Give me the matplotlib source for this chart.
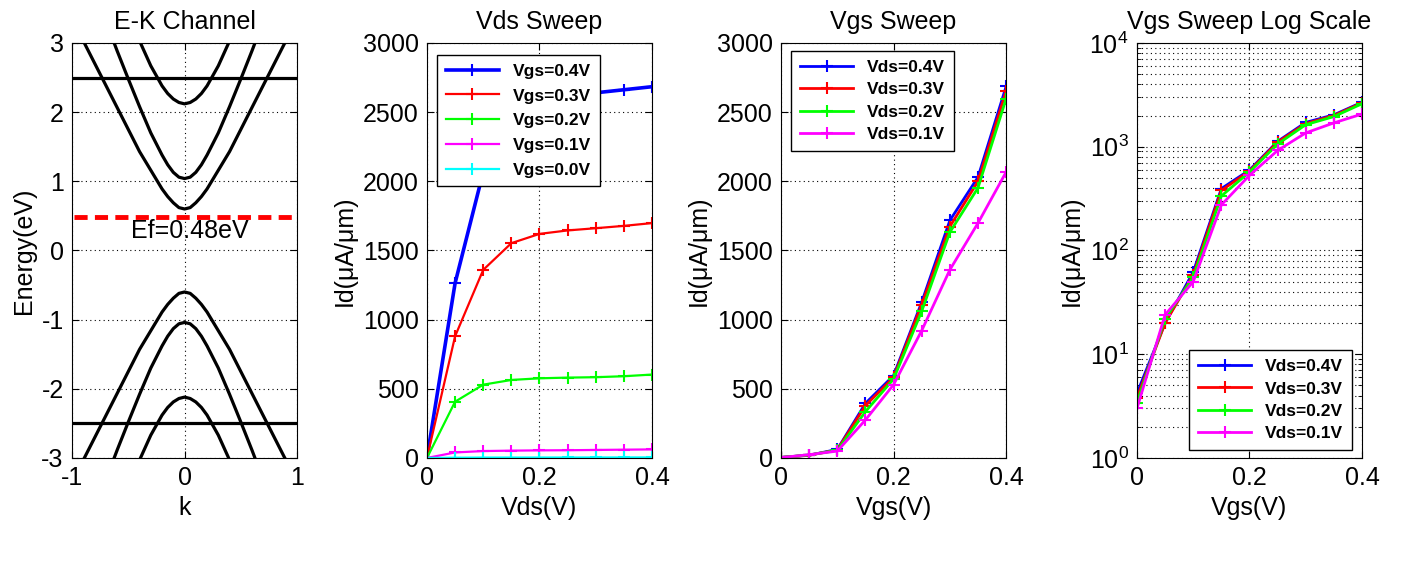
import numpy as np
import matplotlib
matplotlib.use("Agg")
import matplotlib.pyplot as plt
from matplotlib.ticker import LogLocator, NullFormatter

plt.rcParams['font.family'] = ['Liberation Sans', 'DejaVu Sans']
plt.rcParams['mathtext.fontset'] = 'custom'
plt.rcParams['mathtext.rm'] = 'Liberation Sans'
plt.rcParams['mathtext.default'] = 'regular'
plt.rcParams['axes.unicode_minus'] = False

# ---- band structure (k >= 0 half, mirrored) ----
k_b1 = [0, 0.05, 0.1, 0.15, 0.2, 0.3, 0.4, 0.5, 0.6, 0.7, 0.8, 0.9, 1.0]
E_b1 = [0.60, 0.62, 0.69, 0.78, 0.89, 1.16, 1.43, 1.75, 2.07, 2.39, 2.71, 3.03, 3.35]
k_b2 = [0, 0.05, 0.1, 0.15, 0.2, 0.3, 0.4, 0.5, 0.6, 0.7]
E_b2 = [1.04, 1.06, 1.13, 1.24, 1.38, 1.70, 2.08, 2.48, 2.89, 3.32]
k_b3 = [0, 0.05, 0.1, 0.15, 0.2, 0.3, 0.4, 0.5]
E_b3 = [2.12, 2.14, 2.19, 2.27, 2.38, 2.67, 3.03, 3.43]
k_flat = [-1, 1]
E_flat = 2.5
Ef = 0.48

# ---- Vds sweep ----
vds = [0, 0.05, 0.1, 0.15, 0.2, 0.25, 0.3, 0.35, 0.4]
id_vgs04 = [0, 1264, 2067, 2520, 2597, 2620, 2640, 2662, 2684]
id_vgs03 = [0, 880, 1360, 1553, 1620, 1645, 1661, 1678, 1698]
id_vgs02 = [0, 407, 530, 564, 576, 581, 584, 591, 603]
id_vgs01 = [0, 40, 50, 53, 55, 56, 58, 60, 62]
id_vgs00 = [0, 2.0, 3.0, 3.2, 3.4, 3.6, 3.8, 4.0, 4.2]

# ---- Vgs sweep ----
vgs = [0, 0.05, 0.1, 0.15, 0.2, 0.25, 0.3, 0.35, 0.4]
id_vds04 = [4.2, 20, 62, 395, 596, 1126, 1717, 2030, 2686]
id_vds03 = [3.8, 20, 58, 379, 583, 1109, 1673, 1999, 2652]
id_vds02 = [3.4, 22, 55, 335, 571, 1061, 1632, 1953, 2597]
id_vds01 = [3.0, 24, 50, 275, 530, 921, 1360, 1698, 2067]

FS = 18
LEG_FS = 12.5
grid_kw = dict(color='black', linestyle=(0, (1, 3)), linewidth=0.8)

fig = plt.figure(figsize=(14.04, 5.68), dpi=100)
bottom, height, width = 0.1937, 0.7306, 0.1603
lefts = [0.0513, 0.3041, 0.5563, 0.8098]
axes = [fig.add_axes([l, bottom, width, height]) for l in lefts]


def style(ax):
    ax.tick_params(direction='in', top=True, right=True, labelsize=FS,
                   length=5, pad=6)
    for s in ax.spines.values():
        s.set_linewidth(0.8)


def add_legend(ax, loc, anchor, spacing):
    leg = ax.legend(loc=loc, bbox_to_anchor=anchor, borderaxespad=0,
                    fancybox=False, framealpha=1, edgecolor='black',
                    prop={'size': LEG_FS, 'weight': 'bold'},
                    handlelength=3.1, labelspacing=spacing, borderpad=0.5)
    leg.get_frame().set_linewidth(1.0)


# E-K channel
ax = axes[0]
for kk, ee in [(k_b1, E_b1), (k_b2, E_b2), (k_b3, E_b3)]:
    kk = np.array(kk)
    ee = np.array(ee)
    kf = np.concatenate([-kk[::-1], kk[1:]])
    ef = np.concatenate([ee[::-1], ee[1:]])
    ax.plot(kf, ef, color='black', lw=2.3)
    ax.plot(kf, -ef, color='black', lw=2.3)
ax.plot(k_flat, [E_flat, E_flat], color='black', lw=2.3)
ax.plot(k_flat, [-E_flat, -E_flat], color='black', lw=2.3)
ax.plot([-0.98, 1], [Ef, Ef], color='red', lw=3.5, dashes=(2.7, 1.5))
ax.text(-0.48, 0.28, 'Ef=%.2feV' % Ef, fontsize=FS, va='center', ha='left')
ax.set_xlim(-1, 1)
ax.set_ylim(-3, 3)
ax.set_xticks([-1, 0, 1])
ax.set_yticks([-3, -2, -1, 0, 1, 2, 3])
ax.grid(True, **grid_kw)
ax.set_xlabel('k', fontsize=FS)
ax.set_ylabel('Energy(eV)', fontsize=FS)
ax.set_title('E-K Channel', fontsize=FS, pad=10)
style(ax)

xt = [0, 0.2, 0.4]
xt_labels = ['0', '0.2', '0.4']

# Vds sweep
ax = axes[1]
mk = dict(marker='+', markersize=9, markeredgewidth=1.5)
ax.plot(vds, id_vgs04, color='blue', lw=2.6, label='Vgs=0.4V', **mk)
ax.plot(vds, id_vgs03, color='red', lw=1.6, label='Vgs=0.3V', **mk)
ax.plot(vds, id_vgs02, color='#00ff00', lw=1.6, label='Vgs=0.2V', **mk)
ax.plot(vds, id_vgs01, color='magenta', lw=1.6, label='Vgs=0.1V', **mk)
ax.plot(vds, id_vgs00, color='cyan', lw=1.6, label='Vgs=0.0V', **mk)
ax.set_xlim(0, 0.4)
ax.set_ylim(0, 3000)
ax.set_xticks(xt)
ax.set_xticklabels(xt_labels)
ax.set_yticks(range(0, 3001, 500))
ax.grid(True, **grid_kw)
ax.set_xlabel('Vds(V)', fontsize=FS)
ax.set_ylabel('Id(\u03bcA/\u03bcm)', fontsize=FS)
ax.set_title('Vds Sweep', fontsize=FS, pad=10)
add_legend(ax, 'upper left', (0.044, 0.971), 0.55)
style(ax)

# Vgs sweep (linear + log)
for ax, log in [(axes[2], False), (axes[3], True)]:
    ax.plot(vgs, id_vds04, color='blue', lw=2.0, label='Vds=0.4V', **mk)
    ax.plot(vgs, id_vds03, color='red', lw=2.0, label='Vds=0.3V', **mk)
    ax.plot(vgs, id_vds02, color='#00ff00', lw=2.0, label='Vds=0.2V', **mk)
    ax.plot(vgs, id_vds01, color='magenta', lw=2.0, label='Vds=0.1V', **mk)
    ax.set_xlim(0, 0.4)
    ax.set_xticks(xt)
    ax.set_xticklabels(xt_labels)
    ax.set_xlabel('Vgs(V)', fontsize=FS)
    ax.set_ylabel('Id(\u03bcA/\u03bcm)', fontsize=FS)
    if log:
        ax.set_yscale('log')
        ax.set_ylim(1, 1e4)
        ax.yaxis.set_major_locator(LogLocator(base=10, numticks=10))
        ax.yaxis.set_minor_locator(LogLocator(base=10, subs=np.arange(2, 10), numticks=20))
        ax.yaxis.set_minor_formatter(NullFormatter())
        ax.grid(True, which='both', **grid_kw)
        ax.tick_params(which='minor', direction='in', right=True, length=3)
        ax.set_title('Vgs Sweep Log Scale', fontsize=FS, pad=10)
        add_legend(ax, 'lower right', (0.956, 0.019), 0.42)
    else:
        ax.set_ylim(0, 3000)
        ax.set_yticks(range(0, 3001, 500))
        ax.grid(True, **grid_kw)
        ax.set_title('Vgs Sweep', fontsize=FS, pad=10)
        add_legend(ax, 'upper left', (0.044, 0.981), 0.42)
    style(ax)

fig.savefig('out.png', dpi=100)
